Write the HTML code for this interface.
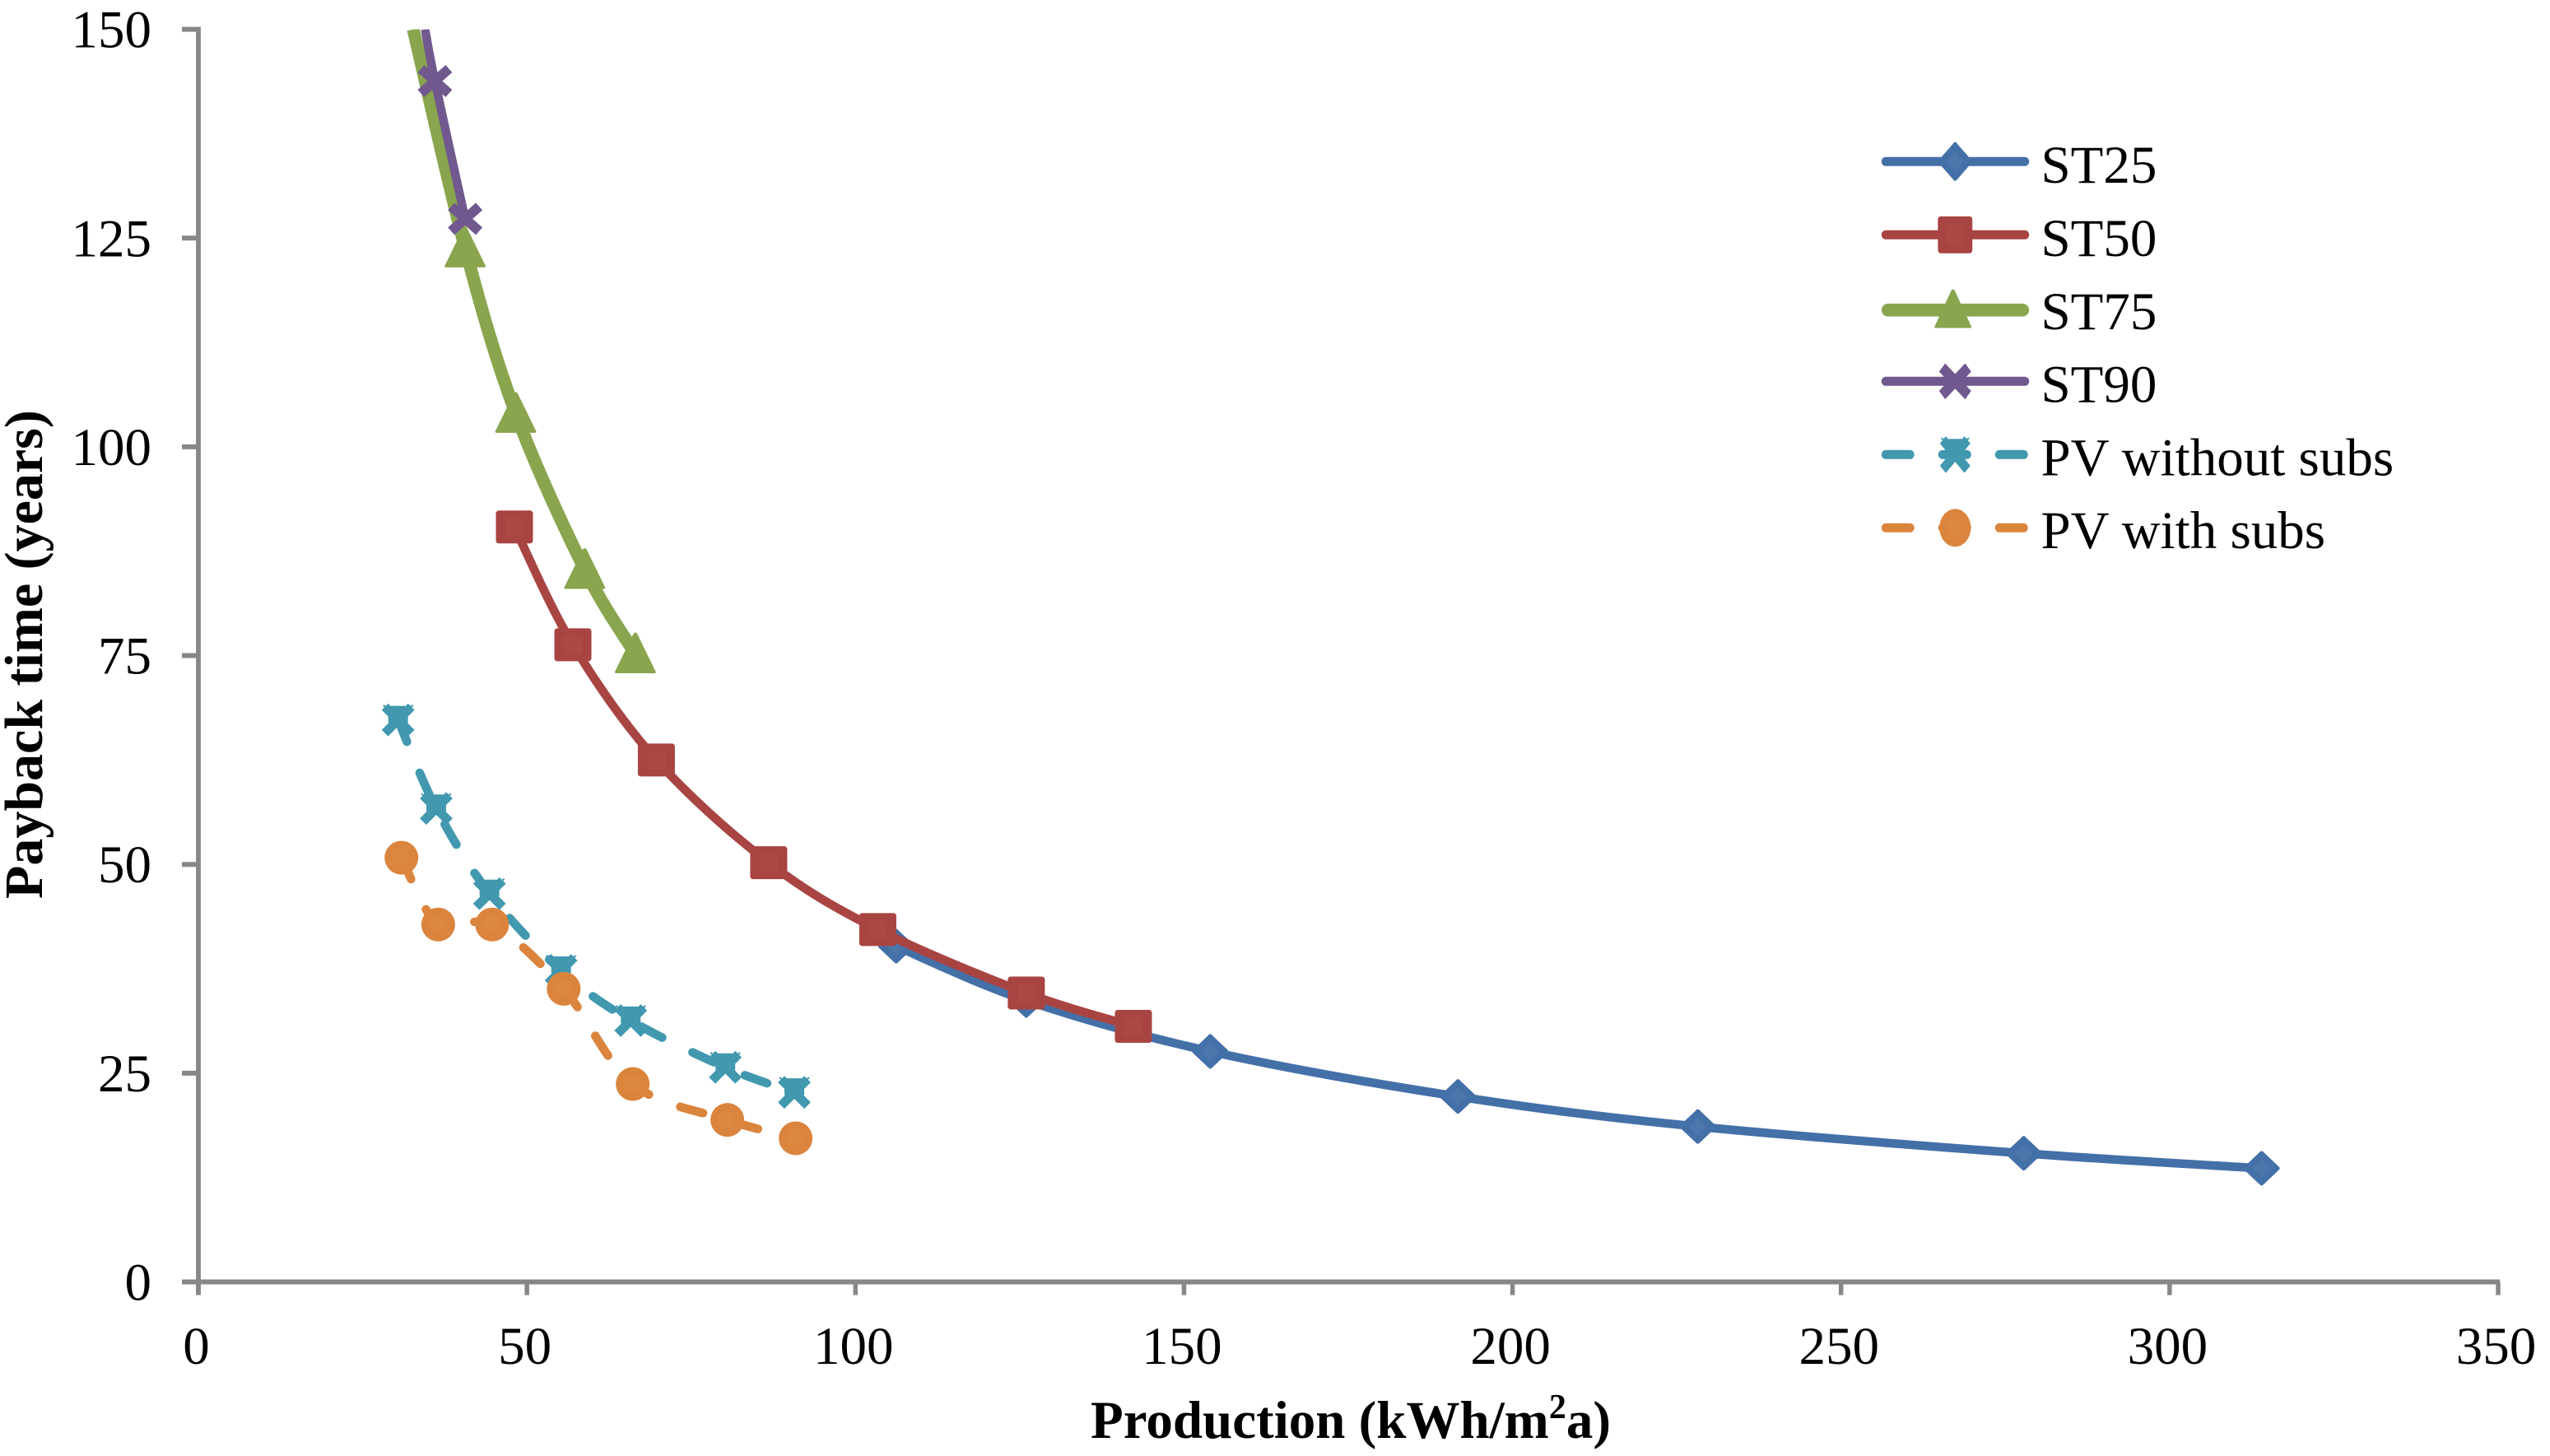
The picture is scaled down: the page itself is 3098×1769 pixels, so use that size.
<!DOCTYPE html>
<html lang="en">
<head>
<meta charset="utf-8">
<title>Payback time versus production</title>
<style>
html,body{margin:0;padding:0;background:#fff;width:3098px;height:1769px;overflow:hidden}
svg{display:block;position:absolute;left:0;top:0}
text{font-family:"Liberation Serif","Times New Roman",serif;fill:#000}
</style>
</head>
<body>
<svg id="chart" xmlns="http://www.w3.org/2000/svg" width="3098" height="1769" viewBox="0 0 3098 1769"></svg>
<script>
// ---- chart data ----
const xTickLabels = [0, 50, 100, 150, 200, 250, 300, 350];
const yTickLabels = [0, 25, 50, 75, 100, 125, 150];

const st25X = [314, 277.8, 228.2, 191.7, 154, 126, 106.2];
const st25Y = [13.6, 15.4, 18.6, 22.2, 27.6, 33.7, 40.2];

const st50X = [142.3, 126, 103.4, 86.8, 69.7, 57, 48.1];
const st50Y = [30.6, 34.6, 42.2, 50.2, 62.5, 76.3, 90.4];

const st75X = [66.5, 58.8, 48.3, 40.6, 32.7];
const st75Y = [75.2, 85.3, 104, 123.8, 150];

const st90X = [40.6, 36, 34.5];
const st90Y = [127.3, 143.8, 150];

const pvWithoutX = [30.4, 36.2, 44.3, 55.2, 65.8, 80.2, 90.7];
const pvWithoutY = [67.3, 56.7, 46.5, 37.3, 31.3, 25.7, 22.7];

const pvWithX = [30.9, 36.5, 44.7, 55.6, 66.1, 80.5, 90.9];
const pvWithY = [50.8, 42.8, 42.8, 35.1, 23.7, 19.4, 17.2];

const seriesNames = ["ST25", "ST50", "ST75", "ST90", "PV without subs", "PV with subs"];
const seriesIds = ["st25", "st50", "st75", "st90", "pv-without-subs", "pv-with-subs"];
const seriesXs = [st25X, st50X, st75X, st90X, pvWithoutX, pvWithX];
const seriesYs = [st25Y, st50Y, st75Y, st90Y, pvWithoutY, pvWithY];
const seriesColors = ["#4470A8", "#A84442", "#89A54E", "#71588F", "#4198AF", "#DB843D"];
const seriesWidths = [10.5, 10.5, 15.5, 10.5, 10.5, 10.5];
const seriesMarkers = ["diamond", "square", "triangle", "cross", "star", "circle"];
const seriesDashed = [false, false, false, false, true, true];

// ---- axis functions ----
const AXIS_LEFT = 241, AXIS_RIGHT = 3035, AXIS_TOP = 35.6, AXIS_BOTTOM = 1557.5;
const X_MAX = 350, Y_MAX = 150;
function scaleX(v){ return AXIS_LEFT + (v / X_MAX) * (AXIS_RIGHT - AXIS_LEFT); }
function scaleY(v){ return AXIS_BOTTOM - (v / Y_MAX) * (AXIS_BOTTOM - AXIS_TOP); }

const svg = document.getElementById('chart');
const NS = 'http://www.w3.org/2000/svg';
const AXIS_COLOR = '#878787';
const LABEL_SIZE = 65;

function make(tag, attrs, parent){
  const el = document.createElementNS(NS, tag);
  for (const k in attrs) el.setAttribute(k, attrs[k]);
  (parent || svg).appendChild(el);
  return el;
}

function smoothPath(xs, ys){
  const pts = xs.map((x, i) => [scaleX(x), scaleY(ys[i])]);
  let d = 'M' + pts[0][0] + ' ' + pts[0][1];
  for (let i = 0; i < pts.length - 1; i++){
    const p0 = pts[Math.max(i - 1, 0)], p1 = pts[i], p2 = pts[i + 1], p3 = pts[Math.min(i + 2, pts.length - 1)];
    const c1x = p1[0] + (p2[0] - p0[0]) / 6, c1y = p1[1] + (p2[1] - p0[1]) / 6;
    const c2x = p2[0] - (p3[0] - p1[0]) / 6, c2y = p2[1] - (p3[1] - p1[1]) / 6;
    d += 'C' + c1x + ' ' + c1y + ' ' + c2x + ' ' + c2y + ' ' + p2[0] + ' ' + p2[1];
  }
  return d;
}

function drawMarker(kind, color, cx, cy, parent, sx, sy){
  const g = make('g', {transform: 'translate(' + cx + ' ' + cy + ') scale(' + (sx || 1) + ' ' + (sy || 1) + ')'}, parent);
  if (kind === 'diamond'){
    make('path', {d: 'M0 -21 Q2 -21 3 -19 L21 -2 Q23 0 21 2 L3 19 Q1 21 0 21 Q-1 21 -3 19 L-21 2 Q-23 0 -21 -2 L-3 -19 Q-2 -21 0 -21 Z', fill: color}, g);
    make('path', {d: 'M0 -11 L11 0 L0 11 L-11 0 Z', fill: '#4B77AD'}, g);
  } else if (kind === 'square'){
    make('rect', {x: -22.5, y: -20, width: 45, height: 40, rx: 3.5, fill: color}, g);
    make('rect', {x: -11, y: -11, width: 22, height: 22, fill: '#AC4846'}, g);
  } else if (kind === 'triangle'){
    make('path', {d: 'M0 -26 Q2 -26 3 -23 L25 22 Q25 23.5 23 23.5 L-23 23.5 Q-25 23.5 -25 22 L-3 -23 Q-2 -26 0 -26 Z', fill: color}, g);
  } else if (kind === 'cross'){
    make('path', {d: 'M-17 -15 L17 15 M17 -15 L-17 15', stroke: color, 'stroke-width': 12, fill: 'none'}, g);
  } else if (kind === 'star'){
    make('path', {d: 'M-16 16 L16 -16 M16 16 L-16 -16', stroke: color, 'stroke-width': 11, fill: 'none'}, g);
    make('rect', {x: -12, y: -17, width: 24, height: 23, rx: 4, fill: color}, g);
    make('path', {d: 'M-18 -18 L-12 -13 M18 -18 L12 -13', stroke: color, 'stroke-width': 2, fill: 'none'}, g);
  } else {
    make('ellipse', {cx: 0, cy: 0, rx: 20.5, ry: 20.5, fill: color}, g);
    make('circle', {cx: -1, cy: -1, r: 10, fill: '#DD8841'}, g);
  }
  return g;
}

function drawLabel(str, x, y, anchor, parent){
  const el = make('text', {x: x, y: y, 'font-size': LABEL_SIZE, 'text-anchor': anchor}, parent);
  el.textContent = str;
  return el;
}

// ---- clip ----
const defs = make('defs', {});
const clip = make('clipPath', {id: 'plot-clip'}, defs);
make('rect', {x: AXIS_LEFT, y: AXIS_TOP, width: AXIS_RIGHT - AXIS_LEFT + 60, height: AXIS_BOTTOM - AXIS_TOP + 40}, clip);

// ---- axes ----
const yAxisGroup = make('g', {});


const xAxisGroup = make('g', {});



const yAxisLine = make('line', {x1: AXIS_LEFT, x2: AXIS_LEFT, y1: AXIS_TOP - 3, y2: AXIS_BOTTOM + 16, stroke: AXIS_COLOR, 'stroke-width': 5.8}, yAxisGroup);



const xAxisLine = make('line', {x1: AXIS_LEFT - 20, x2: AXIS_RIGHT + 2, y1: AXIS_BOTTOM, y2: AXIS_BOTTOM, stroke: AXIS_COLOR, 'stroke-width': 6}, xAxisGroup);



yTickLabels.forEach(function(v){
  const py = scaleY(v);
  const tick = make('line', {x1: AXIS_LEFT - 20, x2: AXIS_LEFT, y1: py, y2: py, stroke: AXIS_COLOR, 'stroke-width': 6}, yAxisGroup);
  
  
  const label = drawLabel(String(v), 184, py + 22, 'end', yAxisGroup);
  
  
});

xTickLabels.forEach(function(v){
  const px = scaleX(v);
  const tick = make('line', {x1: px, x2: px, y1: AXIS_BOTTOM, y2: AXIS_BOTTOM + 16, stroke: AXIS_COLOR, 'stroke-width': 5.5}, xAxisGroup);
  
  
  const label = drawLabel(String(v), px - 2.5, 1657, 'middle', xAxisGroup);
  
  
});

// ---- series ----
const DASH = '28.5 41';
seriesNames.forEach(function(name, i){
  const g = make('g', {});
  
  
  const lineAttrs = {
    d: smoothPath(seriesXs[i], seriesYs[i]),
    fill: 'none',
    stroke: seriesColors[i],
    'stroke-width': seriesWidths[i],
    'clip-path': 'url(#plot-clip)'
  };
  if (seriesDashed[i]){
    lineAttrs['stroke-dasharray'] = DASH;
    lineAttrs['stroke-linecap'] = 'round';
  }
  const line = make('path', lineAttrs, g);
  
  
  seriesXs[i].forEach(function(xv, j){
    const yv = seriesYs[i][j];
    if (yv >= Y_MAX) return;
    const m = drawMarker(seriesMarkers[i], seriesColors[i], scaleX(xv), scaleY(yv), g);
    
    
  });
});

// ---- legend ----
const legendGroup = make('g', {});


const LEGEND_LINE_Y0 = 196.3, LEGEND_TEXT_Y0 = 222.2, LEGEND_STEP = 89;
seriesNames.forEach(function(name, i){
  const isGreen = seriesMarkers[i] === 'triangle';
  const y = LEGEND_LINE_Y0 + i * LEGEND_STEP + (isGreen ? 2.4 : 0);
  const entry = make('g', {}, legendGroup);
  
  
  const inset = seriesWidths[i] / 2;
  const attrs = {x1: 2286 + inset, x2: 2465 - inset, y1: y, y2: y, stroke: seriesColors[i], 'stroke-width': isGreen ? 15.7 : 11, 'stroke-linecap': 'round'};
  if (seriesDashed[i]){
    attrs['stroke-dasharray'] = '29 40';
  }
  const swatch = make('line', attrs, entry);
  
  
  const mk = drawMarker(seriesMarkers[i], seriesColors[i], isGreen ? 2372.7 : 2375.3, isGreen ? y - 0.5 : y, entry, isGreen ? 0.9 : 0.93, isGreen ? 0.95 : 1.12);
  
  
  const lab = drawLabel(name, 2479.5, LEGEND_TEXT_Y0 + i * 88.8, 'start', entry);
  
  
});

// ---- axis titles ----
const yTitle = make('text', {
  transform: 'translate(51 1092) rotate(-90)',
  'font-size': 66,
  'font-weight': 'bold',
  'text-anchor': 'start'
});
yTitle.textContent = 'Payback time (years)';



const xTitle = make('text', {
  x: 1641,
  y: 1747,
  'font-size': 65,
  'font-weight': 'bold',
  'text-anchor': 'middle'
});


const t1 = make('tspan', {}, xTitle);
t1.textContent = 'Production (kWh/m';
const t2 = make('tspan', {dy: -24, 'font-size': 42}, xTitle);
t2.textContent = '2';
const t3 = make('tspan', {dy: 24}, xTitle);
t3.textContent = 'a)';
</script>
</body>
</html>
